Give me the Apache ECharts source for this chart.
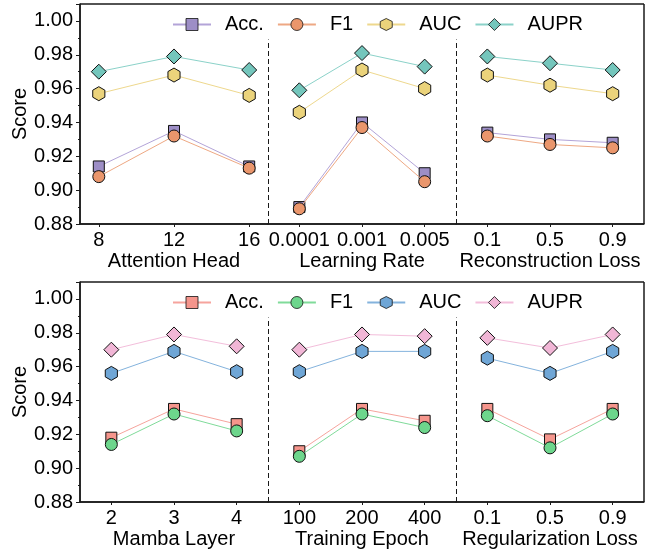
<!DOCTYPE html>
<html>
<head>
<meta charset="utf-8">
<script src="https://cdn.jsdelivr.net/npm/echarts@6/dist/echarts.min.js"></script>
<style>html,body{margin:0;padding:0;background:#fff}#c{width:654px;height:550px}</style>
</head>
<body>
<div id="c"></div>
<script>
// ---- categories / tick labels ----
const headX = [8, 12, 16];
const lrLabels = ['0.0001', '0.001', '0.005'];
const reconLabels = ['0.1', '0.5', '0.9'];
const mambaLabels = ['2', '3', '4'];
const epochLabels = ['100', '200', '400'];
const regLabels = ['0.1', '0.5', '0.9'];
const metricNames = ['Acc.', 'F1', 'AUC', 'AUPR'];

// ---- series values ----
const headAcc = [0.914, 0.935, 0.914];
const headF1 = [0.908, 0.932, 0.913];
const headAUC = [0.957, 0.968, 0.956];
const headAUPR = [0.970, 0.979, 0.971];

const lrAcc = [0.890, 0.940, 0.910];
const lrF1 = [0.889, 0.937, 0.905];
const lrAUC = [0.946, 0.971, 0.960];
const lrAUPR = [0.959, 0.981, 0.973];

const reconAcc = [0.934, 0.930, 0.928];
const reconF1 = [0.932, 0.927, 0.925];
const reconAUC = [0.968, 0.962, 0.957];
const reconAUPR = [0.979, 0.975, 0.971];

const mambaAcc = [0.918, 0.935, 0.926];
const mambaF1 = [0.914, 0.932, 0.922];
const mambaAUC = [0.956, 0.969, 0.957];
const mambaAUPR = [0.970, 0.979, 0.972];

const epochAcc = [0.910, 0.935, 0.928];
const epochF1 = [0.907, 0.932, 0.924];
const epochAUC = [0.957, 0.969, 0.969];
const epochAUPR = [0.970, 0.979, 0.978];

const regAcc = [0.935, 0.917, 0.935];
const regF1 = [0.931, 0.912, 0.932];
const regAUC = [0.965, 0.956, 0.969];
const regAUPR = [0.977, 0.971, 0.979];

// ---- styling ----
const FONT = 'Liberation Sans, Arial, sans-serif';
const AX = '#1a1a1a';
const topFill = ['#9d8ec6', '#ea966c', '#ebd37b', '#74c6bc'];
const topLine = ['#b3a4d8', '#eea883', '#eed88d', '#8bd2c9'];
const botFill = ['#f5958c', '#6dd68c', '#6fa6d6', '#f1b6d6'];
const botLine = ['#f6a49d', '#80db9a', '#84b3dd', '#f3bedb'];
const HEX = 'path://M0,-10L8.66,-5L8.66,5L0,10L-8.66,5L-8.66,-5Z';
const symbols = ['rect', 'circle', HEX, 'diamond'];
const symSizes = [11, 12, 14, 15];

const panelTops = [4, 282];
const panelH = 220;
const secLeft = [80, 268, 456];
const secW = 188;
const yMin = 0.88, yMax = 1.01;

const grids = [], xAxes = [], yAxes = [], series = [];

const panels = [
  {
    fill: topFill, line: topLine, suffix: '',
    sections: [
      {name: 'Attention Head', numeric: true, labels: headX.map(String), xs: headX, min: 7, max: 17, vals: [headAcc, headF1, headAUC, headAUPR]},
      {name: 'Learning Rate', labels: lrLabels, vals: [lrAcc, lrF1, lrAUC, lrAUPR]},
      {name: 'Reconstruction Loss', labels: reconLabels, vals: [reconAcc, reconF1, reconAUC, reconAUPR]}
    ]
  },
  {
    fill: botFill, line: botLine, suffix: '#b',
    sections: [
      {name: 'Mamba Layer', labels: mambaLabels, vals: [mambaAcc, mambaF1, mambaAUC, mambaAUPR]},
      {name: 'Training Epoch', labels: epochLabels, vals: [epochAcc, epochF1, epochAUC, epochAUPR]},
      {name: 'Regularization Loss', labels: regLabels, vals: [regAcc, regF1, regAUC, regAUPR]}
    ]
  }
];

const legends = [];
const mkLine = () => ({show: true, onZero: false, lineStyle: {color: AX, width: 1.5, opacity: 1}});

panels.forEach((p, pi) => {
  const top = panelTops[pi];
  p.sections.forEach((s, si) => {
    const gi = grids.length;
    grids.push({left: secLeft[si], top: top, width: secW, height: panelH});
    const xs = s.xs || s.labels.map((_, i) => i);
    const xMin = s.numeric ? s.min : -0.5, xMax = s.numeric ? s.max : 2.5;
    const xi = xAxes.length;
    xAxes.push({
      type: 'value', gridIndex: gi, position: 'bottom',
      min: xMin, max: xMax,
      axisLine: mkLine(), splitLine: {show: false},
      axisTick: {show: true, customValues: xs, length: 3, lineStyle: {color: AX, width: 1}},
      axisLabel: {
        customValues: xs, fontSize: 20, color: '#000', fontFamily: FONT, margin: 6,
        formatter: (v) => s.numeric ? String(v) : s.labels[Math.round(v)]
      },
      name: s.name, nameLocation: 'middle', nameGap: 27,
      nameTextStyle: {fontSize: 20, color: '#000', fontFamily: FONT}
    });
    const yi = yAxes.length;
    if (si === 0) {
      yAxes.push({
        type: 'value', gridIndex: gi, position: 'left', min: yMin, max: yMax, interval: 0.02,
        axisLine: mkLine(), splitLine: {show: false},
        axisTick: {show: true, length: 4, lineStyle: {color: AX, width: 1}},
        minorTick: {show: true, splitNumber: 2, length: 2, lineStyle: {color: AX, width: 1}},
        axisLabel: {fontSize: 20, color: '#000', fontFamily: FONT, margin: 7, formatter: (v) => v.toFixed(2)},
        name: 'Score', nameLocation: 'middle', nameGap: 48,
        nameTextStyle: {fontSize: 20, color: '#000', fontFamily: FONT}
      });
    } else {
      yAxes.push({type: 'value', gridIndex: gi, min: yMin, max: yMax, show: false, axisLine: {onZero: false}});
    }
    // frame edges in data coordinates
    const edges = [
      [{coord: [xMin, yMax]}, {coord: [xMax, yMax]}],
      [{coord: [xMin, yMin]}, {coord: [xMax, yMin]}]
    ];
    if (si === 0) edges.push([{coord: [xMin, yMin]}, {coord: [xMin, yMax]}]);
    if (si === 2) edges.push([{coord: [xMax, yMin]}, {coord: [xMax, yMax]}]);

    s.vals.forEach((vals, mi) => {
      const ser = {
        type: 'line', name: metricNames[mi] + p.suffix,
        xAxisIndex: xi, yAxisIndex: yi,
        data: xs.map((x, k) => [x, vals[k]]),
        symbol: symbols[mi], symbolSize: symSizes[mi], symbolKeepAspect: true,
        itemStyle: {color: p.fill[mi], borderColor: '#111', borderWidth: 1, opacity: 1},
        lineStyle: {color: p.line[mi], width: 1},
        clip: false,
        z: 3 + mi, animation: false, silent: true
      };
      if (si > 0 && mi === 0) {
        ser.markLine = {
          silent: true, symbol: 'none', animation: false,
          label: {show: false},
          lineStyle: {color: AX, width: 1, type: [5, 3]},
          data: [[{coord: [-0.5, yMin]}, {coord: [-0.5, 0.989]}]]
        };
      }
      if (mi === 1) {
        ser.markLine = {
          silent: true, symbol: 'none', animation: false,
          label: {show: false},
          lineStyle: {color: AX, width: 1.5, type: 'solid', opacity: 1},
          data: edges
        };
      }
      series.push(ser);
    });
  });

  legends.push({
    left: 167, top: top + 5.5, itemWidth: 38, itemHeight: 15, itemGap: 13,
    data: metricNames.map(n => n + p.suffix),
    formatter: (n) => n.split('#')[0],
    selectedMode: false,
    itemStyle: {borderWidth: 0.8},
    textStyle: {fontSize: 20, color: '#000', fontFamily: FONT, padding: [0, 0, 0, 9]}
  });
});

const chart = echarts.init(document.getElementById('c'), null, {renderer: 'canvas'});
chart.setOption({
  animation: false,
  backgroundColor: '#fff',
  textStyle: {fontFamily: FONT},
  grid: grids, xAxis: xAxes, yAxis: yAxes,
  legend: legends,
  series: series
});
</script>
</body>
</html>
